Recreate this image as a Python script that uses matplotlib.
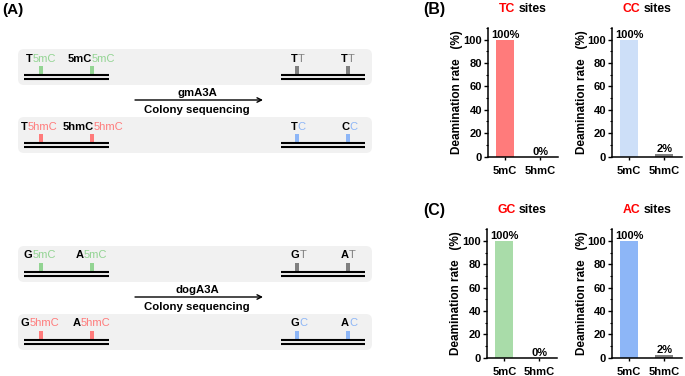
import matplotlib.pyplot as plt
from matplotlib.patches import FancyBboxPatch, Rectangle
from matplotlib.ticker import MultipleLocator

plt.rcParams['font.family'] = ['Liberation Sans', 'DejaVu Sans']
plt.rcParams['font.weight'] = 'bold'
plt.rcParams['axes.labelweight'] = 'bold'

# bar chart data
categories = ['5mC', '5hmC']
tc_rate = [100, 0]
cc_rate = [100, 2]
gc_rate = [100, 0]
ac_rate = [100, 2]
y_ticks = [0, 20, 40, 60, 80, 100]

# schematic labels (black part, coloured part)
gm_before_5mc = [('T', '5mC'), ('5mC', '5mC')]
gm_before_5hmc = [('T', '5hmC'), ('5hmC', '5hmC')]
gm_after_5mc = [('T', 'T'), ('T', 'T')]
gm_after_5hmc = [('T', 'C'), ('C', 'C')]
dog_before_5mc = [('G', '5mC'), ('A', '5mC')]
dog_before_5hmc = [('G', '5hmC'), ('A', '5hmC')]
dog_after_5mc = [('G', 'T'), ('A', 'T')]
dog_after_5hmc = [('G', 'C'), ('A', 'C')]
enzymes = ['gmA3A', 'dogA3A']

GREEN = '#93d493'
RED = '#ff7b7b'
BLUE = '#8db6f7'
GRAY = '#808080'
PALE_BLUE = '#cddff8'
PALE_GREEN = '#a9dca9'

W, H = 685, 376
fig = plt.figure(figsize=(W / 100, H / 100), dpi=100)
renderer = fig.canvas.get_renderer()

# pixel-unit overlay for the schematic
ax0 = fig.add_axes([0, 0, 1, 1])
ax0.set_xlim(0, W)
ax0.set_ylim(H, 0)
ax0.axis('off')


def mixed(ax, x, y, parts, size=8):
    prev = None
    for s, c, w in parts:
        if prev is None:
            prev = ax.text(x, y, s, color=c, fontweight=w, fontsize=size,
                           ha='left', va='baseline')
        else:
            prev = ax.annotate(s, xy=(1, 0), xycoords=prev, color=c,
                               fontweight=w, fontsize=size, ha='left', va='bottom')
    return prev


def draw_row(base, lefts, left_xs, left_col, rights, right_xs, right_col):
    ax0.add_patch(FancyBboxPatch((18, base - 12.5), 354, 36,
                                 boxstyle='round,pad=0,rounding_size=6',
                                 fc='#f1f1f1', ec='none', zorder=0))
    for (a, b), x in zip(lefts, left_xs):
        mixed(ax0, x, base, [(a, 'black', 'bold'), (b, left_col, 'normal')])
    for (a, b), x in zip(rights, right_xs):
        mixed(ax0, x, base, [(a, 'black', 'bold'), (b, right_col, 'normal')])
    for x in [40.7, 92]:
        ax0.add_patch(Rectangle((x - 1.9, base + 4), 3.8, 8.7, fc=left_col, ec='none'))
    for x in [296.7, 348]:
        ax0.add_patch(Rectangle((x - 1.9, base + 4), 3.8, 8.7, fc=right_col, ec='none'))
    for dy in [13.2, 17.8]:
        ax0.plot([24, 109], [base + dy, base + dy], color='black', lw=1.5,
                 solid_capstyle='butt')
        ax0.plot([281, 365], [base + dy, base + dy], color='black', lw=1.5,
                 solid_capstyle='butt')


def draw_group(off, enzyme, b5mc, b5hmc, a5mc, a5hmc, xs1, xs2):
    draw_row(61.5 + off, b5mc, xs1, GREEN, a5mc, [290.7, 341.2], GRAY)
    draw_row(129.5 + off, b5hmc, xs2, RED, a5hmc, [290.7, 341.2], BLUE)
    ax0.annotate('', xy=(263, 100 + off), xytext=(135, 100 + off),
                 arrowprops=dict(arrowstyle='->', lw=1, color='black',
                                 mutation_scale=8, shrinkA=0, shrinkB=0))
    ax0.text(197, 92.7 + off, enzyme, ha='center', va='center', fontsize=8.2)
    ax0.text(197, 110 + off, 'Colony sequencing', ha='center', va='center', fontsize=8.2)


draw_group(0, enzymes[0], gm_before_5mc, gm_before_5hmc, gm_after_5mc, gm_after_5hmc,
           [26, 67.7], [20.7, 62.3])
draw_group(197, enzymes[1], dog_before_5mc, dog_before_5hmc, dog_after_5mc, dog_after_5hmc,
           [24, 76], [20.7, 72.7])

ax0.text(2, 10, '(A)', fontsize=11, ha='left', va='center')
ax0.text(423, 9.5, '(B)', fontsize=11.5, ha='left', va='center')
ax0.text(423, 210, '(C)', fontsize=11.5, ha='left', va='center')


def bar_panel(x0, x1, y_bottom, values, color, site):
    ax = fig.add_axes([x0 / W, 1 - y_bottom / H, (x1 - x0) / W, 128.4 / H])
    pos = list(range(len(categories)))
    ax.bar(pos, values, width=0.52, color=[color, GRAY], zorder=2)
    ax.set_xlim(-0.5, 1.5)
    ax.set_ylim(0, 110)
    ax.set_xticks(pos)
    ax.set_xticklabels(categories, fontweight='bold')
    ax.set_yticks(y_ticks)
    ax.set_yticklabels([str(t) for t in y_ticks], fontweight='bold')
    ax.yaxis.set_minor_locator(MultipleLocator(10))
    for s in ['top', 'right']:
        ax.spines[s].set_visible(False)
    for s in ['left', 'bottom']:
        ax.spines[s].set_linewidth(1.1)
    ax.tick_params(axis='y', which='major', length=3, width=1, pad=1, labelsize=8)
    ax.tick_params(axis='y', which='minor', length=1.8, width=0.8)
    ax.tick_params(axis='x', length=2.5, width=1, pad=4, labelsize=8)
    ax.set_ylabel('Deamination rate   (%)', fontsize=8.5, va='center', fontweight='bold')
    ax.yaxis.set_label_coords(-0.43, 0.5)
    for i, v in zip(pos, values):
        ax.text(i, v, f'{v}%', ha='center', va='bottom', fontsize=8)
    # two-coloured title, centred over the axes
    cx = (x0 + x1) / 2
    ty = 9.3 if y_bottom < 200 else 210
    t1 = ax0.text(cx, ty, site, fontsize=8.8, ha='left', va='center', color='#ff0000')
    t2 = ax0.text(cx, ty, 'sites', fontsize=8.8, ha='left', va='center')
    w1 = t1.get_window_extent(renderer).width
    w2 = t2.get_window_extent(renderer).width
    gap = 3
    start = cx - (w1 + gap + w2) / 2
    t1.set_x(start)
    t2.set_x(start + w1 + gap)
    return ax


bar_panel(487.5, 558, 156.5, tc_rate, RED, 'TC')
bar_panel(611.7, 681.7, 156.5, cc_rate, PALE_BLUE, 'CC')
bar_panel(486.7, 557, 357.7, gc_rate, PALE_GREEN, 'GC')
bar_panel(611.7, 681.7, 357.7, ac_rate, BLUE, 'AC')

plt.savefig('out.png', dpi=100)
